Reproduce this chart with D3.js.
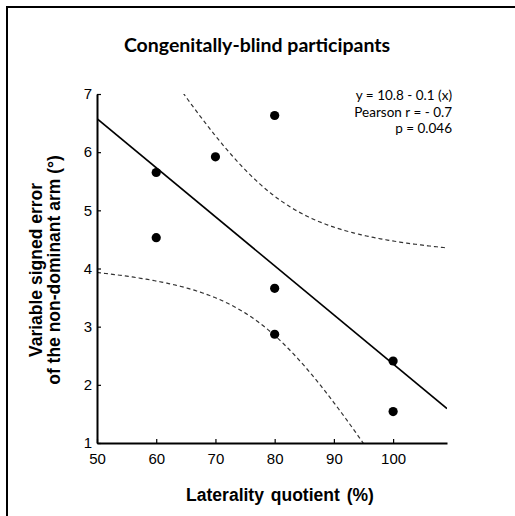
<!DOCTYPE html>
<html>
<head>
<meta charset="utf-8">
<script src="https://cdn.jsdelivr.net/npm/d3@7"></script>
<style>
  body { margin: 0; background: #fff; }
  svg text { fill: #000; }
  .arial { font-family: "Liberation Sans", Arial, Helvetica, sans-serif; }
</style>
</head>
<body>
<svg id="chart" width="515" height="516"></svg>
<script>
// data
const laterality = [60, 60, 70, 80, 80, 80, 100, 100];
const signedError = [5.65, 4.53, 5.92, 6.63, 3.66, 2.87, 2.41, 1.54];
const xTicks = [50, 60, 70, 80, 90, 100];
const yTicks = [1, 2, 3, 4, 5, 6, 7];
const statLines = ["y = 10.8 - 0.1 (x)", "Pearson r = - 0.7", "p = 0.046"];

const svg = d3.select("#chart");
const plot = { left: 97, right: 447, top: 94, bottom: 443 }; // plot box in px

var x = d3.scaleLinear().domain([50, 109.1]).range([plot.left, plot.right]);
var y = d3.scaleLinear().domain([1, 7]).range([plot.bottom, plot.top]);

// frame round the figure (only top and left show)
svg.append("path")
  .attr("d", "M7,516V7H515")
  .attr("fill", "none")
  .attr("stroke", "#000")
  .attr("stroke-width", 2);

// least squares fit + 95% band of the mean
const pts = laterality.map((v, i) => [v, signedError[i]]);
const n = pts.length;
const mx = d3.mean(laterality), my = d3.mean(signedError);
const sxx = d3.sum(laterality, v => (v - mx) * (v - mx));
const sxy = d3.sum(pts, p => (p[0] - mx) * (p[1] - my));
const slope = sxy / sxx, icpt = my - slope * mx;
const sse = d3.sum(pts, p => Math.pow(p[1] - (icpt + slope * p[0]), 2));
const s = Math.sqrt(sse / (n - 2));
const t975 = 2.447; // t, 6 df
const half = v => t975 * s * Math.sqrt(1 / n + (v - mx) * (v - mx) / sxx);

svg.append("clipPath").attr("id", "plotclip")
  .append("rect")
  .attr("x", plot.left).attr("y", plot.top)
  .attr("width", plot.right - plot.left).attr("height", plot.bottom - plot.top);

const xs = d3.range(0, 201).map(i => 50 + i * (109.1 - 50) / 200);
const band = d3.line().x(d => x(d[0])).y(d => y(d[1]));

const g = svg.append("g").attr("clip-path", "url(#plotclip)");
g.append("path")
  .datum(xs.map(v => [v, icpt + slope * v + half(v)]))
  .attr("d", band)
  .attr("fill", "none").attr("stroke", "#333").attr("stroke-width", 1.2)
  .attr("stroke-dasharray", "4,3");
g.append("path")
  .datum(xs.map(v => [v, icpt + slope * v - half(v)]))
  .attr("d", band)
  .attr("fill", "none").attr("stroke", "#333").attr("stroke-width", 1.2)
  .attr("stroke-dasharray", "4,3");
g.append("path")
  .datum([[50, icpt + slope * 50], [109.1, icpt + slope * 109.1]])
  .attr("d", band)
  .attr("fill", "none").attr("stroke", "#000").attr("stroke-width", 1.6);

// points
svg.selectAll(".dot")
  .data(pts)
  .enter()
  .append("circle")
  .attr("class", "dot")
  .attr("cx", d => x(d[0]))
  .attr("cy", d => y(d[1]))
  .attr("r", 4.6)
  .attr("fill", "#000");

// axes, ticks inward
var xAxis = svg.append("g")
  .attr("transform", "translate(0," + plot.bottom + ")")
  .call(d3.axisBottom(x).tickValues(xTicks).tickFormat(d3.format("d"))
    .tickSizeInner(-4).tickSizeOuter(0).tickPadding(10));
var yAxis = svg.append("g")
  .attr("transform", "translate(" + plot.left + ",0)")
  .call(d3.axisLeft(y).tickValues(yTicks).tickFormat(d3.format("d"))
    .tickSizeInner(-4).tickSizeOuter(0).tickPadding(5));

[xAxis, yAxis].forEach(a => {
  a.attr("font-family", null).attr("font-size", null);
  a.select(".domain").attr("stroke-width", 2);
  a.selectAll(".tick line").attr("stroke-width", 1.2);
  a.selectAll("text")
    .attr("class", "arial")
    .style("font-size", "15px")
    .attr("fill", "#111");
});

// titles
svg.append("text")
  .attr("x", 257).attr("y", 52)
  .attr("text-anchor", "middle")
  .style("font-family", "Lato, sans-serif")
  .style("font-weight", "bold")
  .style("font-size", "19.5px")
  .text("Congenitally-blind participants");

svg.append("text")
  .attr("class", "arial")
  .attr("x", 280).attr("y", 501)
  .attr("text-anchor", "middle")
  .style("font-weight", "bold")
  .style("font-size", "17.5px")
  .style("word-spacing", "2px")
  .text("Laterality quotient (%)");

var ytitle = svg.append("text")
  .attr("class", "arial")
  .attr("transform", "translate(42,270) rotate(-90)")
  .attr("text-anchor", "middle")
  .style("font-weight", "bold")
  .style("font-size", "17.5px");
ytitle.append("tspan").attr("x", 0).attr("y", 0).text("Variable signed error");
ytitle.append("tspan").attr("x", 0).attr("y", 18).text("of the non-dominant arm (°)");

// stats box
svg.append("g").selectAll("text")
  .data(statLines)
  .enter()
  .append("text")
  .attr("x", 452)
  .attr("y", (d, i) => 100 + i * 16.5)
  .attr("text-anchor", "end")
  .style("font-family", "Lato, sans-serif")
  .style("font-size", "13.5px")
  .text(d => d);
</script>
</body>
</html>
